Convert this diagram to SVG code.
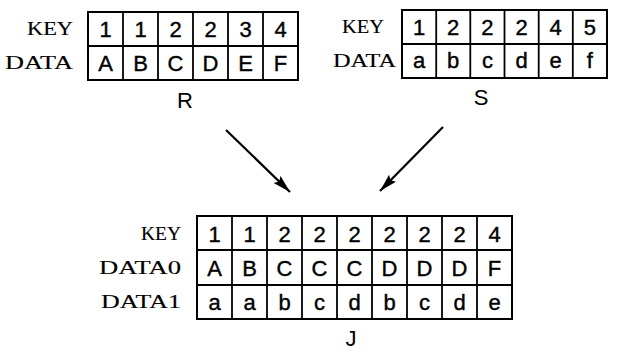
<svg xmlns="http://www.w3.org/2000/svg" width="618" height="354" viewBox="0 0 618 354">
<style>
.grid{fill:#fff;stroke:#000;stroke-width:2}
.ln{stroke:#000;stroke-width:1.8}
.c{font-family:"Liberation Sans",Arial,sans-serif;font-size:22px;text-anchor:middle;fill:#000;stroke:#000;stroke-width:0.4}
.lab{font-family:"Liberation Serif","Times New Roman",serif;font-size:19px;text-anchor:end;fill:#000;stroke:#000;stroke-width:0.15}
.name{font-family:"Liberation Sans",Arial,sans-serif;font-size:22px;text-anchor:middle;fill:#000}
.arr{stroke:#000;stroke-width:2.2;fill:none}
</style>
<defs>
<marker id="ah" markerUnits="userSpaceOnUse" markerWidth="20" markerHeight="12" refX="18" refY="5" orient="auto">
<path d="M0,0 L18,5 L0,10 L3,5 z" fill="#000"/>
</marker>
</defs>

<g id="R">
<text class="lab" x="73" y="35" textLength="46" lengthAdjust="spacingAndGlyphs">KEY</text>
<text class="lab" x="73" y="69" textLength="68" lengthAdjust="spacingAndGlyphs">DATA</text>
<rect class="grid" x="88" y="12" width="210" height="68"/>
<line class="ln" x1="88" y1="46" x2="298" y2="46"/>
<line class="ln" x1="123" y1="12" x2="123" y2="80"/>
<line class="ln" x1="158" y1="12" x2="158" y2="80"/>
<line class="ln" x1="193" y1="12" x2="193" y2="80"/>
<line class="ln" x1="228" y1="12" x2="228" y2="80"/>
<line class="ln" x1="263" y1="12" x2="263" y2="80"/>
<text class="c" x="105.5" y="37">1</text>
<text class="c" x="140.5" y="37">1</text>
<text class="c" x="175.5" y="37">2</text>
<text class="c" x="210.5" y="37">2</text>
<text class="c" x="245.5" y="37">3</text>
<text class="c" x="280.5" y="37">4</text>
<text class="c" x="105.5" y="71">A</text>
<text class="c" x="140.5" y="71">B</text>
<text class="c" x="175.5" y="71">C</text>
<text class="c" x="210.5" y="71">D</text>
<text class="c" x="245.5" y="71">E</text>
<text class="c" x="280.5" y="71">F</text>
<text class="name" x="185" y="108">R</text>
</g>

<g id="S">
<text class="lab" x="384" y="33" textLength="42" lengthAdjust="spacingAndGlyphs">KEY</text>
<text class="lab" x="396" y="67" textLength="63" lengthAdjust="spacingAndGlyphs">DATA</text>
<rect class="grid" x="402" y="10" width="205" height="68"/>
<line class="ln" x1="402" y1="44" x2="607" y2="44"/>
<line class="ln" x1="436.2" y1="10" x2="436.2" y2="78"/>
<line class="ln" x1="470.3" y1="10" x2="470.3" y2="78"/>
<line class="ln" x1="504.5" y1="10" x2="504.5" y2="78"/>
<line class="ln" x1="538.7" y1="10" x2="538.7" y2="78"/>
<line class="ln" x1="572.8" y1="10" x2="572.8" y2="78"/>
<text class="c" x="419.1" y="35">1</text>
<text class="c" x="453.2" y="35">2</text>
<text class="c" x="487.4" y="35">2</text>
<text class="c" x="521.6" y="35">2</text>
<text class="c" x="555.7" y="35">4</text>
<text class="c" x="589.9" y="35">5</text>
<text class="c" x="419.1" y="68">a</text>
<text class="c" x="453.2" y="68">b</text>
<text class="c" x="487.4" y="68">c</text>
<text class="c" x="521.6" y="68">d</text>
<text class="c" x="555.7" y="68">e</text>
<text class="c" x="589.9" y="68">f</text>
<text class="name" x="481" y="105">S</text>
</g>

<g id="connectors">
<line class="arr" x1="226" y1="130" x2="290" y2="192" marker-end="url(#ah)"/>
<line class="arr" x1="443" y1="127" x2="380" y2="191" marker-end="url(#ah)"/>
</g>

<g id="J">
<text class="lab" x="181" y="240" textLength="40" lengthAdjust="spacingAndGlyphs">KEY</text>
<text class="lab" x="181" y="274" textLength="82" lengthAdjust="spacingAndGlyphs">DATA0</text>
<text class="lab" x="181" y="308" textLength="80" lengthAdjust="spacingAndGlyphs">DATA1</text>
<rect class="grid" x="197" y="216" width="315" height="103"/>
<line class="ln" x1="197" y1="250" x2="512" y2="250"/>
<line class="ln" x1="197" y1="285" x2="512" y2="285"/>
<line class="ln" x1="232" y1="216" x2="232" y2="319"/>
<line class="ln" x1="267" y1="216" x2="267" y2="319"/>
<line class="ln" x1="302" y1="216" x2="302" y2="319"/>
<line class="ln" x1="337" y1="216" x2="337" y2="319"/>
<line class="ln" x1="372" y1="216" x2="372" y2="319"/>
<line class="ln" x1="407" y1="216" x2="407" y2="319"/>
<line class="ln" x1="442" y1="216" x2="442" y2="319"/>
<line class="ln" x1="477" y1="216" x2="477" y2="319"/>
<text class="c" x="214.5" y="242">1</text>
<text class="c" x="249.5" y="242">1</text>
<text class="c" x="284.5" y="242">2</text>
<text class="c" x="319.5" y="242">2</text>
<text class="c" x="354.5" y="242">2</text>
<text class="c" x="389.5" y="242">2</text>
<text class="c" x="424.5" y="242">2</text>
<text class="c" x="459.5" y="242">2</text>
<text class="c" x="494.5" y="242">4</text>
<text class="c" x="214.5" y="276">A</text>
<text class="c" x="249.5" y="276">B</text>
<text class="c" x="284.5" y="276">C</text>
<text class="c" x="319.5" y="276">C</text>
<text class="c" x="354.5" y="276">C</text>
<text class="c" x="389.5" y="276">D</text>
<text class="c" x="424.5" y="276">D</text>
<text class="c" x="459.5" y="276">D</text>
<text class="c" x="494.5" y="276">F</text>
<text class="c" x="214.5" y="310">a</text>
<text class="c" x="249.5" y="310">a</text>
<text class="c" x="284.5" y="310">b</text>
<text class="c" x="319.5" y="310">c</text>
<text class="c" x="354.5" y="310">d</text>
<text class="c" x="389.5" y="310">b</text>
<text class="c" x="424.5" y="310">c</text>
<text class="c" x="459.5" y="310">d</text>
<text class="c" x="494.5" y="310">e</text>
<text class="name" x="351" y="346">J</text>
</g>
</svg>
